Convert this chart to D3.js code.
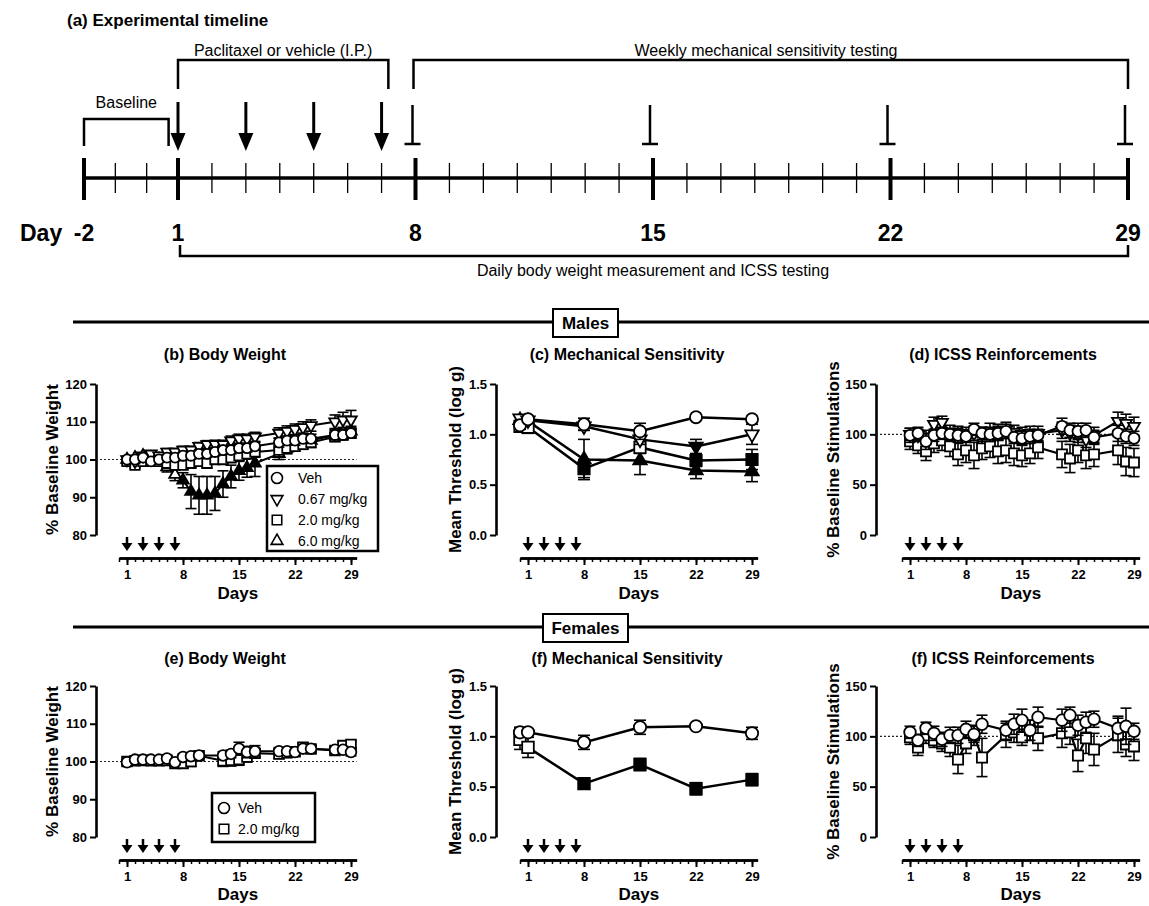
<!DOCTYPE html>
<html>
<head>
<meta charset="utf-8">
<script src="https://cdn.jsdelivr.net/npm/d3@7"></script>
<style>
  body { margin: 0; background: #fff; }
  svg text { font-family: "Liberation Sans", Arial, Helvetica, sans-serif; fill: #000; }
</style>
</head>
<body>
<svg id="fig" width="1149" height="906"></svg>
<script>
// ---- timeline (a) ----
const timelineLabelDays = [-2, 1, 8, 15, 22, 29];
const injectionDays = [1, 3, 5, 7];
const mechTestDays = [8, 15, 22, 29];

// ---- shared ----
const doseLabels = ['Veh', '0.67 mg/kg', '2.0 mg/kg', '6.0 mg/kg'];
const axisLabelDays = [1, 8, 15, 22, 29];
const mechDays = [0, 1, 8, 15, 22, 29];

// ---- males ----
const maleDays = [1, 2, 3, 4, 5, 6, 7, 8, 9, 10, 11, 12, 13, 14, 15, 16, 17, 20, 21, 22, 23, 24, 27, 28, 29];

const maleWeightVeh    = [100, 100, 100.5, 99.5, 100, 100.5, 100.5, 101, 101, 101.5, 101.5, 102, 102.5, 102.5, 103, 103, 103.5, 104.5, 105, 105, 105.5, 105.5, 106.5, 106.5, 107];
const maleWeightVehErr = [0.5, 0.6, 0.6, 0.7, 0.7, 0.8, 0.8, 0.8, 0.9, 0.9, 0.9, 1, 1, 1, 1, 1, 1, 1.2, 1.2, 1.2, 1.2, 1.2, 1.3, 1.3, 1.3];
const maleWeight067    = [100, 99.5, 101, 101.5, 101, 102, 102, 102.5, 102.5, 103.5, 104, 104, 104, 105, 105.5, 105.5, 106, 107, 107.5, 108, 108.5, 109, 110, 110.5, 110.5];
const maleWeight067Err = [0.5, 0.6, 0.7, 0.8, 0.8, 0.9, 0.9, 1, 1, 1, 1, 1.1, 1.1, 1.2, 1.2, 1.2, 1.2, 1.4, 1.4, 1.4, 1.5, 1.5, 1.8, 2, 2.5];
const maleWeight2      = [99.5, 98.5, 99.5, 99.5, 99.5, 99, 98.5, 98.5, 99, 99.5, 99, 100, 100, 100.5, 101, 101.5, 102, 102.5, 103, 103.5, 104, 104.5, 106, 106.5, 107];
const maleWeight2Err   = [0.6, 0.7, 0.8, 0.8, 0.9, 1, 1, 1.1, 1.1, 1.1, 1.2, 1.2, 1.2, 1.3, 1.3, 1.3, 1.4, 1.8, 1.5, 1.3, 1.3, 1.3, 1.2, 1.2, 1.2];
const maleWeight6      = [100, 100.5, 101, 100.5, 100, 98, 96, 94.5, 91.5, 90.5, 90.5, 91, 93.5, 95.5, 97, 97.8, 99, 101.5, 103, 104, 104.5, 105, 106.5, 107, 107.5];
const maleWeight6Err   = [0.5, 0.6, 0.7, 0.8, 1, 1.3, 1.6, 2, 4.5, 5, 5, 4.5, 3.5, 3, 2.5, 2.5, 3.5, 1.5, 1, 1, 1, 1, 1.3, 1.3, 1.3];
const maleWeight6Filled = [8, 9, 10, 11, 12, 13, 14, 15, 16, 17];

const maleMechVeh     = [1.09, 1.15, 1.10, 1.03, 1.17, 1.15];
const maleMechVehErr  = [0.04, 0.03, 0.06, 0.08, 0.02, 0.03];
const maleMech067     = [1.16, 1.14, 1.08, 0.95, 0.88, 1.00];
const maleMech067Err  = [0.03, 0.03, 0.04, 0.05, 0.07, 0.1];
const maleMech067Filled = [22];
const maleMech2       = [1.08, 1.07, 0.66, 0.87, 0.74, 0.75];
const maleMech2Err    = [0.04, 0.06, 0.09, 0.06, 0.06, 0.1];
const maleMech2Filled = [8, 22, 29];
const maleMech6       = [1.14, 1.13, 0.75, 0.74, 0.64, 0.63];
const maleMech6Err    = [0.04, 0.04, 0.2, 0.14, 0.08, 0.1];
const maleMech6Filled = [8, 15, 22, 29];

const maleIcssVeh    = [99, 101, 93, 99, 101, 100, 99, 98, 105, 101, 100, 101, 103, 97, 96, 98, 99, 108, 104, 103, 104, 97, 101, 98, 96];
const maleIcssVehErr = [7, 6, 8, 6, 6, 6, 7, 6, 6, 6, 7, 7, 7, 6, 7, 7, 6, 8, 7, 8, 7, 7, 8, 7, 7];
const maleIcss067    = [100, 99, 97, 110, 112, 102, 101, 100, 101, 100, 103, 102, 104, 102, 100, 101, 101, 104, 101, 100, 95, 99, 113, 111, 108];
const maleIcss067Err = [6, 6, 7, 7, 6, 7, 7, 7, 7, 7, 8, 8, 8, 7, 7, 7, 7, 8, 8, 8, 8, 8, 9, 9, 9];
const maleIcss2      = [93, 89, 83, 91, 94, 88, 80, 84, 79, 86, 88, 83, 84, 81, 79, 81, 87, 80, 76, 84, 79, 80, 84, 73, 72];
const maleIcss2Err   = [8, 8, 9, 9, 10, 10, 11, 12, 13, 11, 11, 12, 12, 12, 11, 10, 11, 13, 14, 12, 13, 12, 14, 14, 14];

// ---- females ----
const femaleDays = [1, 2, 3, 4, 5, 6, 7, 8, 9, 10, 13, 14, 15, 16, 17, 20, 21, 22, 23, 24, 27, 28, 29];

const femaleWeightVeh    = [99.8, 100.5, 100.5, 100.5, 100.5, 100.8, 99.8, 101.2, 101.4, 101.6, 101.6, 102, 103.4, 102.5, 102.7, 102.7, 102.7, 102.5, 103.4, 103.4, 103.1, 103.1, 102.5];
const femaleWeightVehErr = [0.4, 0.5, 0.5, 0.5, 0.5, 0.5, 0.6, 0.8, 0.8, 0.8, 1, 1, 1.7, 1.5, 1.5, 1, 1, 1, 1, 0.8, 0.9, 0.9, 1];
const femaleWeight2      = [100, 100.2, 100.3, 100.2, 100.2, 100.3, 99.5, 99.5, 100, 101.5, 100.2, 100.3, 100.5, 101.2, 102.2, 102, 102.3, 102.6, 103.8, 103.3, 102.9, 104.2, 104.5];
const femaleWeight2Err   = [0.4, 0.5, 0.5, 0.5, 0.5, 0.6, 0.6, 1.2, 1.3, 1, 1.5, 1.5, 1.5, 1.3, 1.2, 1.2, 1.2, 1.2, 1.1, 1, 1, 0.9, 1];

const femaleMechVeh    = [1.04, 1.04, 0.94, 1.09, 1.10, 1.03];
const femaleMechVehErr = [0.05, 0.03, 0.07, 0.07, 0.02, 0.06];
const femaleMech2      = [0.97, 0.89, 0.53, 0.72, 0.48, 0.57];
const femaleMech2Err   = [0.1, 0.1, 0.03, 0.06, 0.06, 0.06];
const femaleMech2Filled = [8, 15, 22, 29];

const femaleIcssVeh    = [104, 96, 108, 103, 97, 101, 101, 107, 102, 112, 106, 112, 116, 106, 119, 116, 121, 111, 114, 117, 108, 110, 105];
const femaleIcssVehErr = [6, 6, 6, 7, 7, 8, 8, 8, 8, 9, 9, 10, 11, 10, 10, 11, 8, 10, 10, 8, 12, 18, 8];
const femaleIcss2      = [99, 89, 101, 96, 93, 89, 77, 93, 101, 79, 101, 104, 99, 106, 98, 103, 104, 81, 98, 87, 101, 92, 90];
const femaleIcss2Err   = [7, 8, 8, 7, 8, 9, 14, 10, 10, 19, 12, 10, 8, 10, 12, 14, 12, 16, 15, 16, 17, 12, 14];

const svg = d3.select('#fig');

// ================= (a) Experimental timeline =================
const tx = d3.scaleLinear().domain([-2, 1, 29]).range([84, 178, 1128]);
const tl = svg.append('g');
const axisY = 178;

tl.append('text').attr('x', 67).attr('y', 26)
  .attr('font-size', 17).attr('font-weight', 'bold')
  .text('(a) Experimental timeline');

tl.append('line')
  .attr('x1', tx(-2)).attr('x2', tx(29)).attr('y1', axisY).attr('y2', axisY)
  .attr('stroke', '#000').attr('stroke-width', 3.5);

// minor day ticks
tl.selectAll('.minor')
  .data(d3.range(-2, 30).filter(d => !timelineLabelDays.includes(d)))
  .join('line')
  .attr('x1', d => tx(d)).attr('x2', d => tx(d))
  .attr('y1', axisY - 15).attr('y2', axisY + 15)
  .attr('stroke', '#000').attr('stroke-width', 1.3);

// major ticks
tl.selectAll('.major')
  .data(timelineLabelDays)
  .join('line')
  .attr('x1', d => tx(d)).attr('x2', d => tx(d))
  .attr('y1', axisY - 20).attr('y2', axisY + 22)
  .attr('stroke', '#000').attr('stroke-width', 4);

tl.append('text').attr('x', 20).attr('y', 241)
  .attr('font-size', 23).attr('font-weight', 'bold').text('Day');
tl.selectAll('.daylab')
  .data(timelineLabelDays)
  .join('text')
  .attr('x', d => tx(d)).attr('y', 241)
  .attr('text-anchor', 'middle')
  .attr('font-size', 23).attr('font-weight', 'bold')
  .text(d => d);

function arrow(g, cx, yTop, yBot, headH, headW, sw) {
  g.append('line')
    .attr('x1', cx).attr('x2', cx).attr('y1', yTop).attr('y2', yBot - headH + 1)
    .attr('stroke', '#000').attr('stroke-width', sw);
  g.append('path')
    .attr('d', `M${cx - headW},${yBot - headH}L${cx + headW},${yBot - headH}L${cx},${yBot}Z`)
    .attr('fill', '#000');
}

// injection arrows
injectionDays.forEach(d => arrow(tl, tx(d), 102, 151, 18, 7.5, 3));

// weekly test markers
mechTestDays.forEach(d => {
  const cx = tx(d) - 3;
  tl.append('line').attr('x1', cx).attr('x2', cx).attr('y1', 105).attr('y2', 144)
    .attr('stroke', '#000').attr('stroke-width', 2.5);
  tl.append('line').attr('x1', cx - 8).attr('x2', cx + 8).attr('y1', 144).attr('y2', 144)
    .attr('stroke', '#000').attr('stroke-width', 2.5);
});

function bracket(g, x1, x2, yTop, yEnd) {
  g.append('path')
    .attr('d', `M${x1},${yEnd}V${yTop}H${x2}V${yEnd}`)
    .attr('fill', 'none').attr('stroke', '#000').attr('stroke-width', 2.5);
}
function note(g, x, y, txt) {
  g.append('text').attr('x', x).attr('y', y)
    .attr('text-anchor', 'middle').attr('font-size', 16).text(txt);
}

bracket(tl, tx(-2), tx(0.7), 119, 146);
note(tl, tx(-0.65), 108, 'Baseline');

bracket(tl, tx(1), tx(7.2), 60, 89);
note(tl, tx(4.1), 56, 'Paclitaxel or vehicle (I.P.)');

bracket(tl, tx(8) - 2, tx(29), 60, 89);
note(tl, 766, 56, 'Weekly mechanical sensitivity testing');

bracket(tl, tx(1) + 2, tx(29), 256, 245);
note(tl, 653, 276, 'Daily body weight measurement and ICSS testing');

// ================= section separators =================
[{ y: 322, label: 'Males', w: 65 }, { y: 627, label: 'Females', w: 85 }].forEach(s => {
  svg.append('line').attr('x1', 73).attr('x2', 1149).attr('y1', s.y).attr('y2', s.y)
    .attr('stroke', '#000').attr('stroke-width', 3);
  svg.append('rect').attr('x', 585.5 - s.w / 2).attr('y', s.y - 13)
    .attr('width', s.w).attr('height', 28)
    .attr('fill', '#fff').attr('stroke', '#000').attr('stroke-width', 2);
  svg.append('text').attr('x', 585.5).attr('y', s.y + 7)
    .attr('text-anchor', 'middle').attr('font-size', 17).attr('font-weight', 'bold')
    .text(s.label);
});

// ================= panels =================
const rows = [
  { top: 384, bot: 535, axisY: 558, title: 360, days: 599, arrowTop: 537 },
  { top: 686, bot: 837, axisY: 860, title: 664, days: 900, arrowTop: 839 }
];
const cols = [
  { axisX: 96, x0: 119, mid: 225, ylab: 52 },
  { axisX: 496, x0: 520, mid: 627, ylab: 455 },
  { axisX: 876, x0: 902, mid: 1003, ylab: 833 }
];
const symbolTypes = {
  circle: d3.symbolCircle, square: d3.symbolSquare, up: d3.symbolTriangle, down: d3.symbolTriangle
};

function marker(sel, shape, size) {
  return sel.attr('d', d3.symbol(symbolTypes[shape], size[shape])());
}
function markerAt(cx, cy, shape) {
  return `translate(${cx},${cy})` + (shape === 'down' ? ' rotate(180)' : '');
}

function drawSeries(g, x, y, s, st) {
  const pts = s.days.map((d, i) => ({
    d, v: s.values[i], e: s.errors[i], f: (s.filled || []).includes(d)
  }));
  const eg = g.append('g').attr('stroke', '#000').attr('stroke-width', 1.6);
  pts.forEach(p => {
    const cx = x(p.d);
    const y1 = y(p.v - p.e), y2 = y(p.v + p.e);
    eg.append('line').attr('x1', cx).attr('x2', cx).attr('y1', y1).attr('y2', y2);
    [y1, y2].forEach(yy => eg.append('line')
      .attr('x1', cx - st.cap).attr('x2', cx + st.cap).attr('y1', yy).attr('y2', yy));
  });
  g.append('path').datum(pts)
    .attr('d', d3.line().x(p => x(p.d)).y(p => y(p.v)))
    .attr('fill', 'none').attr('stroke', '#000').attr('stroke-width', st.lw);
  g.selectAll(null).data(pts).join('path')
    .call(marker, s.shape, st.size)
    .attr('transform', p => markerAt(x(p.d), y(p.v), s.shape))
    .attr('fill', p => p.f ? '#000' : '#fff')
    .attr('stroke', '#000').attr('stroke-width', 1.8);
}

function drawPanel(p) {
  const row = rows[p.row], col = cols[p.col];
  const x = d3.scaleLinear().domain([0, 29.7]).range([col.x0, col.x0 + 29.7 * 8]);
  const y = d3.scaleLinear().domain(p.yDomain).range([row.bot, row.top]);
  const g = svg.append('g');

  g.append('text').attr('x', col.mid).attr('y', row.title)
    .attr('text-anchor', 'middle').attr('font-size', 16).attr('font-weight', 'bold')
    .text(p.title);

  // y axis
  const ya = g.append('g').attr('transform', `translate(${col.axisX},0)`)
    .call(d3.axisLeft(y).tickValues(p.yTicks).tickFormat(p.yFormat).tickSize(6).tickSizeOuter(0));
  // x axis: minor daily ticks, then labelled weekly ticks
  const xm = g.append('g').attr('transform', `translate(0,${row.axisY})`)
    .call(d3.axisBottom(x).tickValues(d3.range(0, 30)).tickSize(4).tickSizeOuter(0).tickFormat(''));
  const xa = g.append('g').attr('transform', `translate(0,${row.axisY})`)
    .call(d3.axisBottom(x).tickValues(axisLabelDays).tickSize(7).tickSizeOuter(0).tickPadding(5));
  [ya, xm, xa].forEach(a => {
    a.select('.domain').attr('stroke-width', 2.6);
    a.selectAll('.tick line').attr('stroke-width', 2);
    a.selectAll('.tick text').attr('font-size', 13).attr('font-weight', 'bold')
      .attr('font-family', '"Liberation Sans", Arial, sans-serif');
  });
  xm.selectAll('.tick line').attr('stroke-width', 1.5);

  g.append('text')
    .attr('transform', `translate(${col.ylab},${(row.top + row.bot) / 2}) rotate(-90)`)
    .attr('text-anchor', 'middle').attr('dy', '0.35em')
    .attr('font-size', 17).attr('font-weight', 'bold').text(p.yLabel);
  g.append('text').attr('x', x(14.85)).attr('y', row.days)
    .attr('text-anchor', 'middle').attr('font-size', 17).attr('font-weight', 'bold')
    .text('Days');

  // injection arrows
  injectionDays.forEach(d => arrow(g, x(d), row.arrowTop, row.arrowTop + 14, 8, 5.5, 2.5));

  if (p.refLine != null) {
    g.append('line')
      .attr('x1', col.axisX).attr('x2', x(29.7))
      .attr('y1', y(p.refLine)).attr('y2', y(p.refLine))
      .attr('stroke', '#222').attr('stroke-width', 1.2).attr('stroke-dasharray', '2,2');
  }

  p.series.forEach(s => drawSeries(g.append('g'), x, y, s, p.style));

  if (p.legend) {
    const L = p.legend;
    g.append('rect').attr('x', L.x).attr('y', L.y).attr('width', L.w).attr('height', L.h)
      .attr('fill', '#fff').attr('stroke', '#000').attr('stroke-width', 2.5);
    L.items.forEach((it, i) => {
      const cy = L.y + L.first + i * L.step;
      g.append('path').call(marker, it.shape, L.size)
        .attr('transform', markerAt(L.x + L.symX, cy, it.shape))
        .attr('fill', '#fff').attr('stroke', '#000').attr('stroke-width', 1.6);
      g.append('text').attr('x', L.x + L.textX).attr('y', cy + 5)
        .attr('font-size', 14).text(it.label);
    });
  }
}

const fmt0 = d3.format('d');
const fmt1 = d3.format('.1f');
const legendSize = { circle: 95, square: 90, up: 60, down: 60 };

// (b) male body weight
drawPanel({
  row: 0, col: 0, title: '(b) Body Weight', yLabel: '% Baseline Weight',
  yDomain: [80, 120], yTicks: [80, 90, 100, 110, 120], yFormat: fmt0, refLine: 100,
  style: { lw: 2, cap: 5.5, size: { circle: 80, square: 90, up: 58, down: 58 } },
  series: [
    { days: maleDays, values: maleWeight6, errors: maleWeight6Err, shape: 'up', filled: maleWeight6Filled },
    { days: maleDays, values: maleWeight2, errors: maleWeight2Err, shape: 'square' },
    { days: maleDays, values: maleWeight067, errors: maleWeight067Err, shape: 'down' },
    { days: maleDays, values: maleWeightVeh, errors: maleWeightVehErr, shape: 'circle' }
  ],
  legend: {
    x: 267, y: 466, w: 111, h: 85, first: 12, step: 21, symX: 10, textX: 31, size: legendSize,
    items: [
      { shape: 'circle', label: doseLabels[0] },
      { shape: 'down', label: doseLabels[1] },
      { shape: 'square', label: doseLabels[2] },
      { shape: 'up', label: doseLabels[3] }
    ]
  }
});

// (c) male mechanical sensitivity
drawPanel({
  row: 0, col: 1, title: '(c) Mechanical Sensitivity', yLabel: 'Mean Threshold (log g)',
  yDomain: [0, 1.5], yTicks: [0, 0.5, 1, 1.5], yFormat: fmt1, refLine: null,
  style: { lw: 2.5, cap: 6, size: { circle: 115, square: 130, up: 78, down: 78 } },
  series: [
    { days: mechDays, values: maleMech6, errors: maleMech6Err, shape: 'up', filled: maleMech6Filled },
    { days: mechDays, values: maleMech2, errors: maleMech2Err, shape: 'square', filled: maleMech2Filled },
    { days: mechDays, values: maleMech067, errors: maleMech067Err, shape: 'down', filled: maleMech067Filled },
    { days: mechDays, values: maleMechVeh, errors: maleMechVehErr, shape: 'circle' }
  ]
});

// (d) male ICSS
drawPanel({
  row: 0, col: 2, title: '(d) ICSS Reinforcements', yLabel: '% Baseline Stimulations',
  yDomain: [0, 150], yTicks: [0, 50, 100, 150], yFormat: fmt0, refLine: 100,
  style: { lw: 2.2, cap: 5.5, size: { circle: 95, square: 100, up: 62, down: 62 } },
  series: [
    { days: maleDays, values: maleIcss2, errors: maleIcss2Err, shape: 'square' },
    { days: maleDays, values: maleIcss067, errors: maleIcss067Err, shape: 'down' },
    { days: maleDays, values: maleIcssVeh, errors: maleIcssVehErr, shape: 'circle' }
  ]
});

// (e) female body weight
drawPanel({
  row: 1, col: 0, title: '(e) Body Weight', yLabel: '% Baseline Weight',
  yDomain: [80, 120], yTicks: [80, 90, 100, 110, 120], yFormat: fmt0, refLine: 100,
  style: { lw: 2, cap: 5.5, size: { circle: 90, square: 95, up: 55, down: 55 } },
  series: [
    { days: femaleDays, values: femaleWeight2, errors: femaleWeight2Err, shape: 'square' },
    { days: femaleDays, values: femaleWeightVeh, errors: femaleWeightVehErr, shape: 'circle' }
  ],
  legend: {
    x: 212, y: 793, w: 103, h: 49, first: 15, step: 21, symX: 12, textX: 26, size: legendSize,
    items: [
      { shape: 'circle', label: doseLabels[0] },
      { shape: 'square', label: doseLabels[2] }
    ]
  }
});

// (f) female mechanical sensitivity
drawPanel({
  row: 1, col: 1, title: '(f) Mechanical Sensitivity', yLabel: 'Mean Threshold (log g)',
  yDomain: [0, 1.5], yTicks: [0, 0.5, 1, 1.5], yFormat: fmt1, refLine: null,
  style: { lw: 2.5, cap: 6, size: { circle: 120, square: 135, up: 78, down: 78 } },
  series: [
    { days: mechDays, values: femaleMech2, errors: femaleMech2Err, shape: 'square', filled: femaleMech2Filled },
    { days: mechDays, values: femaleMechVeh, errors: femaleMechVehErr, shape: 'circle' }
  ]
});

// (f) female ICSS
drawPanel({
  row: 1, col: 2, title: '(f) ICSS Reinforcements', yLabel: '% Baseline Stimulations',
  yDomain: [0, 150], yTicks: [0, 50, 100, 150], yFormat: fmt0, refLine: 100,
  style: { lw: 2.2, cap: 5.5, size: { circle: 105, square: 105, up: 62, down: 62 } },
  series: [
    { days: femaleDays, values: femaleIcss2, errors: femaleIcss2Err, shape: 'square' },
    { days: femaleDays, values: femaleIcssVeh, errors: femaleIcssVehErr, shape: 'circle' }
  ]
});
</script>
</body>
</html>
